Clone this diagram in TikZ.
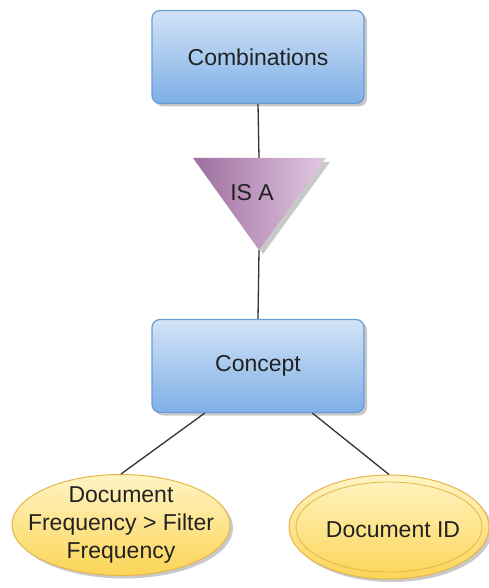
\documentclass[tikz,border=0pt]{standalone}
\usepackage{fontspec}
\setmainfont{Liberation Sans}
\usetikzlibrary{shapes.geometric,shadows,calc}
\definecolor{boxtop}{HTML}{D2E3F7}
\definecolor{boxbot}{HTML}{7EAFE6}
\definecolor{boxline}{HTML}{6A9DD4}
\definecolor{tril}{HTML}{9E6E9F}
\definecolor{trir}{HTML}{E2C8E2}
\definecolor{elltop}{HTML}{FFF4C4}
\definecolor{ellbot}{HTML}{FCD557}
\definecolor{ellline}{HTML}{E5B54B}
\definecolor{txt}{HTML}{222222}
\tikzset{
  lbl/.style={font=\fontsize{23}{28}\selectfont, text=txt, align=center},
  ebox/.style={lbl, rectangle, rounded corners=8pt, draw=boxline, line width=1.2pt,
    top color=boxtop, bottom color=boxbot, minimum width=212pt, minimum height=93pt,
    drop shadow={shadow xshift=3pt, shadow yshift=-3pt, opacity=0.35, fill=black!60}},
  attr/.style={ellipse, draw=ellline, line width=1pt, inner sep=0pt,
    top color=elltop, bottom color=ellbot,
    drop shadow={shadow xshift=3pt, shadow yshift=-3pt, opacity=0.35, fill=black!60}},
  conn/.style={draw=black!80, line width=1.3pt}
}
\begin{document}
\begin{tikzpicture}[x=1pt,y=-1pt]
\useasboundingbox[fill=white] (0,0) rectangle (489,588);
% boxes
\node[ebox] (comb) at (258,57) {Combinations};
\node[ebox] (concept) at (258,366) {Concept};
% triangle
\coordinate (tl) at (193,158);
\coordinate (tr) at (326,158);
\coordinate (apex) at (259,250);
\coordinate (tritop) at (259,158);
\fill[black!60, opacity=0.35] ($(tl)+(4,4)$) -- ($(tr)+(4,4)$) -- ($(apex)+(4,4)$) -- cycle;
\shade[left color=tril, right color=trir] (tl) -- (tr) -- (apex) -- cycle;
\node[lbl] (isa) at (252,193) {IS A};
% ellipses
\node[attr, minimum width=218pt, minimum height=101pt] (freq) at (121,525) {};
\node[lbl] (freqtxt) at (freq.center) {Document\\Frequency > Filter\\Frequency};
\node[attr, minimum width=200pt, minimum height=104pt] (docid) at (389,527) {};
\draw[ellline, line width=0.8pt] (docid.center) ellipse (93 and 45);
\node[lbl] (docidtxt) at (393,530) {Document ID};
% connectors
\draw[conn] (comb.south) -- (tritop);
\draw[conn] (apex) -- (concept.north);
\draw[conn] ($(concept.south west)!0.25!(concept.south east)$) -- (freq.north);
\draw[conn] ($(concept.south west)!0.755!(concept.south east)$) -- (docid.north);
\end{tikzpicture}
\end{document}
